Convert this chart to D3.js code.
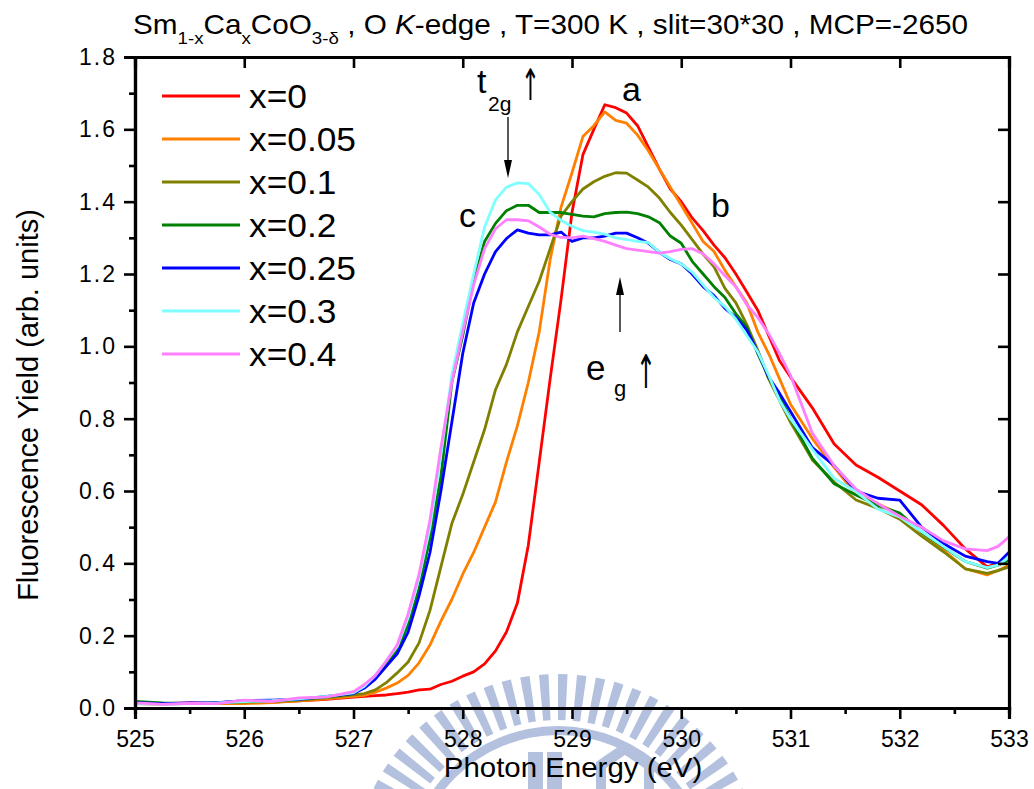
<!DOCTYPE html>
<html><head><meta charset="utf-8">
<script src="https://cdn.jsdelivr.net/npm/d3@7"></script>
<style>
body{margin:0;background:#fff}
svg{display:block}
text{font-family:"Liberation Sans", Arial, Helvetica, sans-serif;fill:#000}
text.arr{font-family:"DejaVu Sans", sans-serif;fill:#000}
</style>
</head><body>
<svg id="c" width="1034" height="789"></svg>
<script>
// ---------------- DATA ----------------
const energy = [525.0,525.25,525.5,525.75,526.0,526.25,526.5,526.75,527.0,
  527.1,527.2,527.3,527.4,527.5,527.6,527.7,527.8,527.9,528.0,
  528.1,528.2,528.3,528.4,528.5,528.6,528.7,528.8,528.9,529.0,
  529.1,529.2,529.3,529.4,529.5,529.6,529.7,529.8,529.9,530.0,
  530.1,530.2,530.3,530.4,530.5,530.6,530.7,530.8,530.9,531.0,
  531.2,531.4,531.6,531.8,532.0,532.2,532.4,532.6,532.8,532.9,533.0];

const yX0 = [.015,.012,.014,.012,.015,.016,.02,.024,.03,
  .032,.034,.036,.04,.044,.05,.052,.065,.074,.088,
  .1,.122,.158,.21,.29,.45,.68,.91,1.13,1.37,
  1.53,1.6,1.668,1.66,1.645,1.61,1.55,1.49,1.435,1.4,
  1.355,1.32,1.28,1.245,1.2,1.15,1.1,1.03,.96,.915,
  .83,.73,.672,.638,.6,.562,.505,.44,.39,.4,.41];

const yX005 = [.012,.01,.013,.012,.012,.015,.02,.025,.032,
  .035,.044,.055,.069,.09,.125,.174,.24,.3,.37,
  .43,.5,.57,.68,.78,.9,1.04,1.24,1.385,1.48,
  1.58,1.61,1.648,1.625,1.617,1.584,1.54,1.49,1.44,1.39,
  1.34,1.29,1.262,1.21,1.165,1.12,1.04,.98,.91,.84,
  .745,.665,.59,.565,.535,.485,.437,.385,.368,.38,.395];

const yX01 = [.014,.012,.012,.014,.016,.018,.022,.028,.036,
  .04,.05,.07,.097,.127,.18,.27,.39,.51,.59,
  .68,.77,.88,.95,1.04,1.11,1.18,1.27,1.36,1.4,
  1.435,1.455,1.47,1.48,1.479,1.46,1.44,1.41,1.37,1.335,
  1.295,1.255,1.22,1.16,1.12,1.06,.99,.91,.85,.79,
  .686,.625,.575,.552,.522,.475,.432,.385,.372,.38,.39];

const yX02 = [.018,.014,.012,.015,.018,.02,.025,.03,.04,
  .06,.09,.12,.16,.23,.33,.47,.64,.9,1.03,
  1.18,1.29,1.34,1.375,1.39,1.39,1.37,1.37,1.37,1.365,
  1.36,1.358,1.367,1.37,1.371,1.367,1.358,1.342,1.305,1.285,
  1.235,1.2,1.165,1.135,1.09,1.053,.98,.915,.86,.8,
  .69,.62,.589,.56,.539,.486,.445,.405,.387,.395,.41];

const yX025 = [.015,.012,.014,.015,.02,.022,.024,.032,.04,
  .055,.08,.115,.15,.21,.31,.43,.6,.79,.98,
  1.12,1.2,1.262,1.298,1.322,1.313,1.308,1.308,1.316,1.29,
  1.3,1.3,1.305,1.313,1.313,1.3,1.285,1.26,1.24,1.228,
  1.2,1.165,1.14,1.105,1.08,1.045,.985,.915,.87,.82,
  .72,.67,.6,.58,.575,.5,.455,.42,.405,.4,.431];

const yX03 = [.012,.01,.012,.014,.018,.02,.025,.032,.042,
  .06,.09,.13,.17,.25,.36,.5,.7,.92,1.064,
  1.2,1.33,1.405,1.44,1.452,1.45,1.42,1.371,1.348,1.332,
  1.32,1.316,1.31,1.3,1.295,1.29,1.287,1.26,1.242,1.228,
  1.205,1.17,1.135,1.11,1.075,1.03,.985,.92,.85,.8,
  .715,.635,.598,.55,.528,.488,.447,.405,.388,.395,.417];

const yX04 = [.014,.01,.013,.012,.022,.018,.028,.03,.045,
  .065,.09,.13,.175,.26,.37,.52,.72,.9,1.04,
  1.17,1.27,1.325,1.35,1.35,1.347,1.33,1.31,1.301,1.3,
  1.305,1.298,1.29,1.28,1.27,1.266,1.262,1.258,1.262,1.268,
  1.27,1.256,1.228,1.195,1.165,1.115,1.08,1.035,.98,.92,
  .76,.67,.605,.565,.53,.5,.462,.44,.435,.447,.473];

const seriesNames  = ["x=0","x=0.05","x=0.1","x=0.2","x=0.25","x=0.3","x=0.4"];
const seriesValues = [yX0,yX005,yX01,yX02,yX025,yX03,yX04];
const seriesColors = ["#ff0000","#ff8000","#808000","#008000","#0000ff","#80ffff","#ff80ff"];

const xTicks = [525,526,527,528,529,530,531,532,533];
const xMinor = [525.5,526.5,527.5,528.5,529.5,530.5,531.5,532.5];
const yTicks = [0,0.2,0.4,0.6,0.8,1.0,1.2,1.4,1.6,1.8];
const yMinor = [0.1,0.3,0.5,0.7,0.9,1.1,1.3,1.5,1.7];

// ---------------- CHART ----------------
const svg = d3.select("#c");
const L = 135, R = 1009, T = 57, B = 708;
const x = d3.scaleLinear().domain([525,533]).range([L,R]);
const y = d3.scaleLinear().domain([0,1.8]).range([B,T]);

// watermark (decorative logo)
const wm = svg.append("g").attr("fill","#b3c1de");
const cx = 558, cy = 880;
const nStripes = 68;
for (let i = 0; i < nStripes; i++) {
  const a0 = i * 2*Math.PI/nStripes;
  wm.append("path")
    .attr("transform",`translate(${cx},${cy})`)
    .attr("d", d3.arc()({innerRadius:160, outerRadius:206, startAngle:a0, endAngle:a0 + 2*Math.PI/nStripes*0.5}));
}
wm.append("path").attr("transform",`translate(${cx},${cy})`)
  .attr("d", d3.arc()({innerRadius:145, outerRadius:154, startAngle:0, endAngle:2*Math.PI}));
wm.append("rect").attr("x",528).attr("y",752).attr("width",15).attr("height",40);
wm.append("rect").attr("x",547).attr("y",752).attr("width",15).attr("height",40);
wm.append("path").attr("d","M596,792 L596,762 L625,742 L654,762 L654,792 Z");
wm.append("path").attr("fill","#fff").attr("d","M606,792 L606,768 L625,755 L644,768 L644,792 Z");

// curves
const line = d3.line().x((d,i)=>x(energy[i])).y(d=>y(d));
seriesValues.forEach((vals,k)=>{
  svg.append("path").datum(vals)
    .attr("fill","none").attr("stroke",seriesColors[k])
    .attr("stroke-width",2.8).attr("stroke-linejoin","round")
    .attr("d",line);
});

// axes
function styleAxis(g){
  g.attr("font-family",null).attr("font-size",null);
  g.select(".domain").attr("stroke-width",3.2).attr("stroke","#000");
  g.selectAll(".tick line").attr("stroke-width",2.6).attr("stroke","#000");
  g.selectAll(".tick text").attr("font-size",23);
}
const gB = svg.append("g").attr("transform",`translate(0,${B})`)
  .call(d3.axisBottom(x).tickValues(xTicks).tickSize(11).tickPadding(12).tickFormat(d3.format("d")));
styleAxis(gB);
const gBm = svg.append("g").attr("transform",`translate(0,${B})`)
  .call(d3.axisBottom(x).tickValues(xMinor).tickSize(6).tickFormat(""));
styleAxis(gBm);
const gL = svg.append("g").attr("transform",`translate(${L},0)`)
  .call(d3.axisLeft(y).tickValues(yTicks).tickSize(11).tickPadding(7).tickFormat(d3.format(".1f")));
styleAxis(gL);
gL.selectAll(".tick text").attr("letter-spacing",2);
const gLm = svg.append("g").attr("transform",`translate(${L},0)`)
  .call(d3.axisLeft(y).tickValues(yMinor).tickSize(6).tickFormat(""));
styleAxis(gLm);
const gT = svg.append("g").attr("transform",`translate(0,${T})`)
  .call(d3.axisTop(x).tickValues(xTicks).tickSize(-11).tickFormat(""));
styleAxis(gT);
const gR = svg.append("g").attr("transform",`translate(${R},0)`)
  .call(d3.axisRight(y).tickValues(yTicks).tickSize(-11).tickFormat(""));
styleAxis(gR);

// axis titles
svg.append("text").attr("transform","translate(573,777) scale(1.09,1)").attr("text-anchor","middle")
  .attr("font-size",27).text("Photon Energy (eV)");
svg.append("text").attr("transform","translate(38,405) rotate(-90)")
  .attr("text-anchor","middle").attr("font-size",29).text("Fluorescence Yield (arb. units)");

// title
const tt = svg.append("text").attr("transform","translate(133,34) scale(1.1,1)").attr("font-size",27);
const parts = [["Sm",0],["1-x",1],["Ca",0],["x",1],["CoO",0],["3-δ",1],[" , O ",0],["K",2],["-edge , T=300 K , slit=30*30 , MCP=-2650",0]];
let shift = 0;
parts.forEach(([t,s])=>{
  const ts = tt.append("tspan").text(t);
  if (s===1){ ts.attr("font-size",17).attr("dy",10-shift); shift = 10; }
  else { ts.attr("dy",-shift); shift = 0; if (s===2) ts.attr("font-style","italic"); }
});

// legend
seriesNames.forEach((n,k)=>{
  const ly = 96 + 43*k;
  svg.append("line").attr("x1",162).attr("x2",240).attr("y1",ly).attr("y2",ly)
    .attr("stroke",seriesColors[k]).attr("stroke-width",3);
  svg.append("text").attr("transform",`translate(249,${ly+12}) scale(1.07,1)`).attr("font-size",33).text(n);
});

// annotations
svg.append("text").attr("x",622).attr("y",101).attr("font-size",34).text("a");
svg.append("text").attr("x",711).attr("y",217).attr("font-size",34).text("b");
svg.append("text").attr("x",459).attr("y",227).attr("font-size",34).text("c");
svg.append("text").attr("x",477).attr("y",93).attr("font-size",34).text("t");
svg.append("text").attr("x",488).attr("y",111).attr("font-size",21).text("2g");
svg.append("text").attr("class","arr").attr("transform","translate(521,100) scale(0.75,1.45)").attr("font-size",30).text("↑");
svg.append("text").attr("x",586).attr("y",380).attr("font-size",35).text("e");
svg.append("text").attr("x",614).attr("y",396).attr("font-size",22).text("g");
svg.append("text").attr("class","arr").attr("transform","translate(636,388) scale(0.8,1.55)").attr("font-size",30).text("↑");
// arrows
svg.append("line").attr("x1",508).attr("x2",508).attr("y1",117).attr("y2",165).attr("stroke","#000").attr("stroke-width",1.3);
svg.append("path").attr("d","M504,160 L512,160 L508,178 Z").attr("fill","#000");
svg.append("line").attr("x1",620).attr("x2",620).attr("y1",332).attr("y2",290).attr("stroke","#000").attr("stroke-width",1.3);
svg.append("path").attr("d","M616,295 L624,295 L620,277 Z").attr("fill","#000");
</script>
</body></html>
